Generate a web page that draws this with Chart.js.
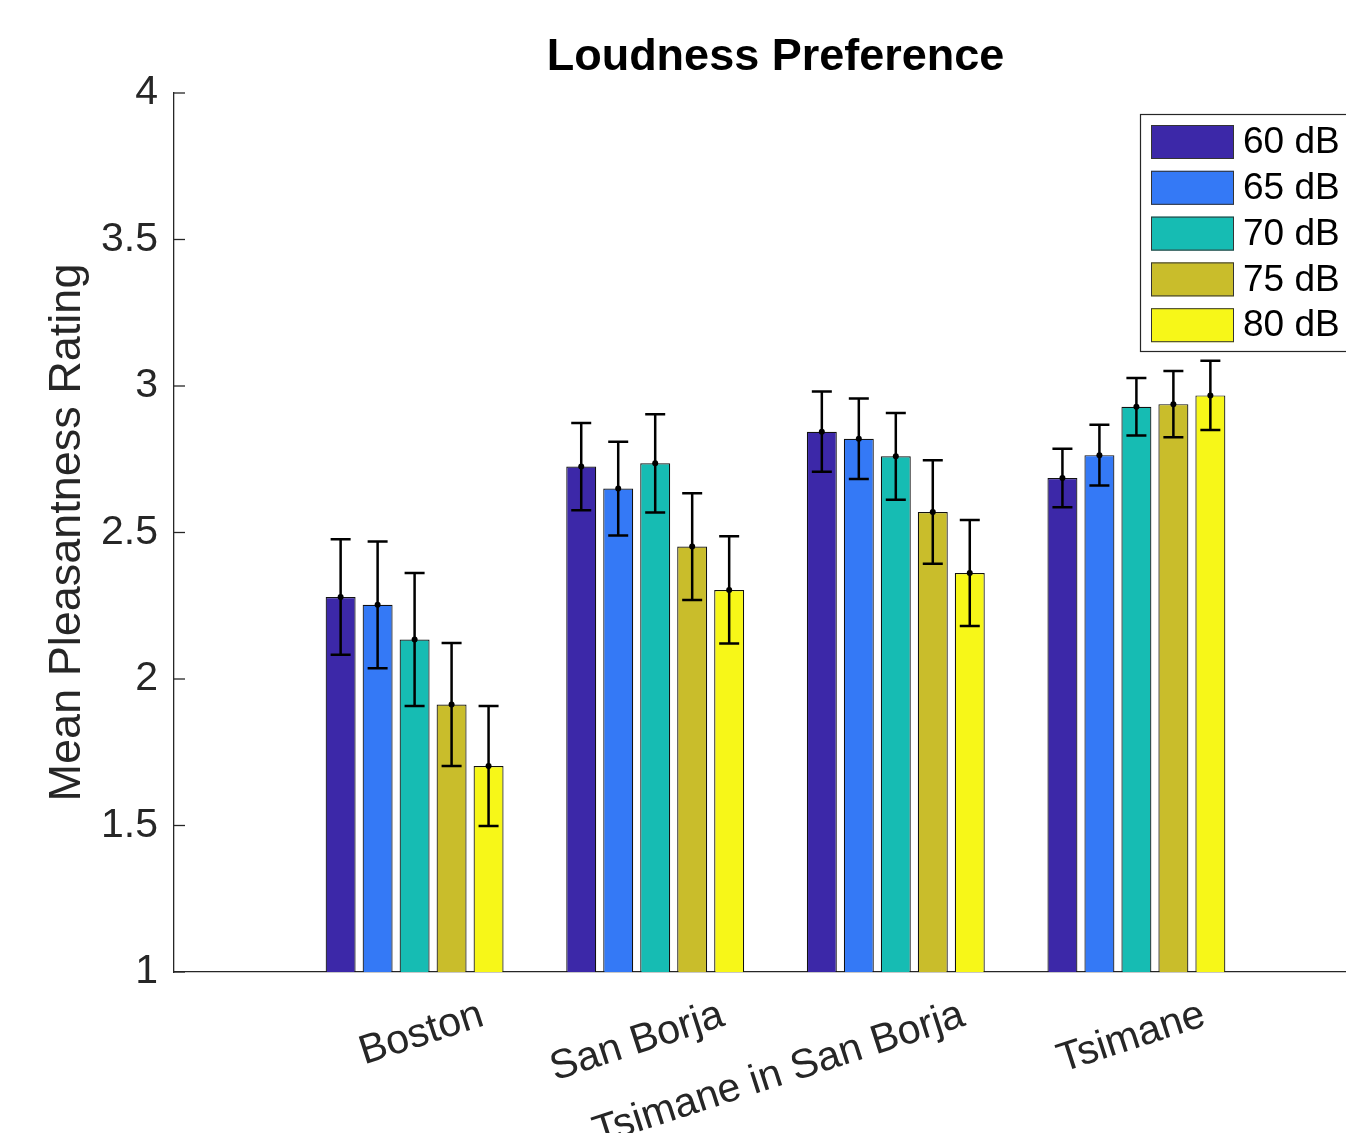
<!DOCTYPE html>
<html>
<head>
<meta charset="utf-8">
<script src="https://cdn.jsdelivr.net/npm/chart.js@4.4.1/dist/chart.umd.min.js"></script>
<style>
    html, body { margin: 0; padding: 0; background: #fff; overflow: hidden; }
    #wrap { width: 1380px; height: 1133px; }
</style>
</head>
<body>
<div id="wrap"><canvas id="loudnessChart" width="1380" height="1133"></canvas></div>
<script>
// categories and series
const categories = ['Boston', 'San Borja', 'Tsimane in San Borja', 'Tsimane'];
const seriesLabels = ['60 dB', '65 dB', '70 dB', '75 dB', '80 dB'];
const seriesColors = ['#3C28A8', '#3479F6', '#16BCB3', '#C9BD2B', '#F7F718'];

// mean pleasantness ratings
const mean60 = [2.280, 2.725, 2.844, 2.686];
const mean65 = [2.253, 2.650, 2.820, 2.764];
const mean70 = [2.135, 2.736, 2.760, 2.929];
const mean75 = [1.913, 2.452, 2.570, 2.938];
const mean80 = [1.703, 2.304, 2.362, 2.968];

// error bar half-lengths
const err60 = [0.197, 0.149, 0.137, 0.100];
const err65 = [0.216, 0.160, 0.137, 0.104];
const err70 = [0.227, 0.168, 0.148, 0.098];
const err75 = [0.210, 0.182, 0.177, 0.113];
const err80 = [0.205, 0.183, 0.181, 0.118];

const yTicks = [1, 1.5, 2, 2.5, 3, 3.5, 4];

const FONT = "'Liberation Sans', Arial, Helvetica, sans-serif";
const AXIS_COLOR = '#262626';

// empty slot at each end, like the x-limits of the original plot
const labels = [''].concat(categories, ['']);
const pad = arr => [null].concat(arr, [null]);

const means = [mean60, mean65, mean70, mean75, mean80];
const errs = [err60, err65, err70, err75, err80];

const datasets = seriesLabels.map((label, i) => ({
    label: label,
    data: pad(means[i]),
    errors: pad(errs[i]),
    backgroundColor: seriesColors[i],
    borderColor: '#111',
    borderWidth: 1.2,
    categoryPercentage: 0.7686,
    barPercentage: 0.81
}));

// Error bars with a dot at the mean
const errorBars = {
    id: 'errorBars',
    afterDatasetsDraw(chart) {
        const ctx = chart.ctx;
        const y = chart.scales.y;
        ctx.save();
        ctx.strokeStyle = '#000';
        ctx.fillStyle = '#000';
        ctx.lineWidth = 2.5;
        chart.data.datasets.forEach((ds, di) => {
            const meta = chart.getDatasetMeta(di);
            meta.data.forEach((bar, i) => {
                const m = ds.data[i];
                if (m == null) return;
                const e = ds.errors[i];
                const x = bar.x;
                const top = y.getPixelForValue(m + e);
                const bot = y.getPixelForValue(m - e);
                ctx.beginPath();
                ctx.moveTo(x, top); ctx.lineTo(x, bot);
                ctx.moveTo(x - 10, top); ctx.lineTo(x + 10, top);
                ctx.moveTo(x - 10, bot); ctx.lineTo(x + 10, bot);
                ctx.stroke();
                ctx.beginPath();
                ctx.arc(x, bar.y, 3, 0, Math.PI * 2);
                ctx.fill();
            });
        });
        ctx.restore();
    }
};

// Inward y ticks, rotated x labels and boxed legend
const axisDecor = {
    id: 'axisDecor',
    afterDraw(chart) {
        const { ctx, chartArea } = chart;
        const x = chart.scales.x;
        const y = chart.scales.y;
        ctx.save();

        ctx.strokeStyle = AXIS_COLOR;
        ctx.lineWidth = 1.3;
        y.ticks.forEach(t => {
            const py = y.getPixelForValue(t.value);
            ctx.beginPath();
            ctx.moveTo(chartArea.left, py);
            ctx.lineTo(chartArea.left + 11, py);
            ctx.stroke();
        });

        ctx.font = '41px ' + FONT;
        ctx.fillStyle = AXIS_COLOR;
        ctx.textAlign = 'right';
        ctx.textBaseline = 'alphabetic';
        chart.data.labels.forEach((lab, i) => {
            if (!lab) return;
            const px = x.getPixelForValue(i);
            ctx.save();
            ctx.translate(px + 71, chartArea.bottom + 53);
            ctx.rotate(-18 * Math.PI / 180);
            ctx.fillText(lab, 0, 0);
            ctx.restore();
        });

        // legend
        const lx = 1140, ly = 114, lw = 212, lh = 237;
        ctx.fillStyle = '#fff';
        ctx.fillRect(lx, ly, lw, lh);
        ctx.strokeStyle = AXIS_COLOR;
        ctx.lineWidth = 1.2;
        ctx.strokeRect(lx + 0.5, ly + 0.5, lw, lh);
        ctx.font = '37px ' + FONT;
        ctx.textAlign = 'left';
        ctx.textBaseline = 'middle';
        chart.data.datasets.forEach((ds, i) => {
            const sy = ly + 11 + i * 45.8;
            ctx.fillStyle = ds.backgroundColor;
            ctx.fillRect(lx + 11, sy, 83, 34);
            ctx.strokeStyle = '#333';
            ctx.lineWidth = 1;
            ctx.strokeRect(lx + 11.5, sy + 0.5, 82, 33);
            ctx.fillStyle = '#000';
            ctx.fillText(ds.label, lx + 103, sy + 18);
        });

        ctx.restore();
    }
};

new Chart(document.getElementById('loudnessChart').getContext('2d'), {
    type: 'bar',
    data: { labels: labels, datasets: datasets },
    options: {
        responsive: false,
        animation: false,
        devicePixelRatio: 1,
        layout: { padding: { left: 0, right: 3, top: 0, bottom: 0 } },
        plugins: {
            legend: { display: false },
            tooltip: { enabled: false },
            title: {
                display: true,
                fullSize: false,
                text: 'Loudness Preference',
                color: '#000',
                font: { size: 45, weight: 'bold', family: FONT },
                padding: { top: 31, bottom: 8 }
            }
        },
        scales: {
            x: {
                type: 'category',
                offset: false,
                afterFit(scale) { scale.height = 161; },
                grid: { display: true, drawOnChartArea: false, drawTicks: false },
                border: { display: true, color: AXIS_COLOR, width: 1.3 },
                ticks: { display: false }
            },
            y: {
                min: 1,
                max: 4,
                afterBuildTicks(scale) { scale.ticks = yTicks.map(v => ({ value: v })); },
                afterFit(scale) { scale.width = 174; },
                grid: { display: true, drawOnChartArea: false, drawTicks: false },
                border: { display: true, color: AXIS_COLOR, width: 1.3 },
                ticks: {
                    color: AXIS_COLOR,
                    font: { size: 41, family: FONT },
                    padding: 16,
                    callback: v => String(v)
                },
                title: {
                    display: true,
                    text: 'Mean Pleasantness Rating',
                    color: AXIS_COLOR,
                    font: { size: 45, family: FONT },
                    padding: { top: 41, bottom: 0 }
                }
            }
        }
    },
    plugins: [errorBars, axisDecor]
});
</script>
</body>
</html>
